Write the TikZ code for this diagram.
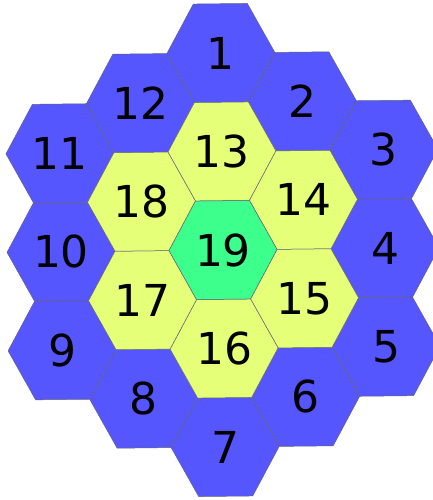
\documentclass[tikz,border=0pt]{standalone}
\usepackage{fontspec}
\setmainfont{DejaVu Sans}
\definecolor{hexblue}{RGB}{86,86,255}
\definecolor{hexyellow}{RGB}{230,255,120}
\definecolor{hexgreen}{RGB}{60,255,140}
\definecolor{hexline}{RGB}{100,100,120}
\tikzset{
  hexcellstyle/.style={draw=hexline, line width=0.5pt, line join=round},
  hexlabel/.style={font=\fontsize{44}{44}\selectfont, inner sep=0pt, text=black}
}
\newcommand\hexcell[5]{%
  \path[hexcellstyle, fill=#3, shift={(#1*81,#2*98.5)}]
    (54,0) -- (27,49.25) -- (-27,49.25) -- (-54,0) -- (-27,-49.25) -- (27,-49.25) -- cycle;
  \node[hexlabel] (h#5) at (#1*81,#2*98.5) {#4};
}
\begin{document}
\begin{tikzpicture}
\useasboundingbox (0pt,0pt) rectangle (432pt,-500pt);
\begin{scope}[shift={(223pt,-250pt)}, x={(1pt,0.011pt)}, y={(0.011pt,-1pt)}]
  % outer ring
  \hexcell{0}{-2}{hexblue}{1}{1}
  \hexcell{1}{-1.5}{hexblue}{2}{2}
  \hexcell{2}{-1}{hexblue}{3}{3}
  \hexcell{2}{0}{hexblue}{4}{4}
  \hexcell{2}{1}{hexblue}{5}{5}
  \hexcell{1}{1.5}{hexblue}{6}{6}
  \hexcell{0}{2}{hexblue}{7}{7}
  \hexcell{-1}{1.5}{hexblue}{8}{8}
  \hexcell{-2}{1}{hexblue}{9}{9}
  \hexcell{-2}{0}{hexblue}{10}{10}
  \hexcell{-2}{-1}{hexblue}{11}{11}
  \hexcell{-1}{-1.5}{hexblue}{12}{12}
  % middle ring
  \hexcell{0}{-1}{hexyellow}{13}{13}
  \hexcell{1}{-0.5}{hexyellow}{14}{14}
  \hexcell{1}{0.5}{hexyellow}{15}{15}
  \hexcell{0}{1}{hexyellow}{16}{16}
  \hexcell{-1}{0.5}{hexyellow}{17}{17}
  \hexcell{-1}{-0.5}{hexyellow}{18}{18}
  % centre
  \hexcell{0}{0}{hexgreen}{19}{19}
\end{scope}
\end{tikzpicture}
\end{document}
